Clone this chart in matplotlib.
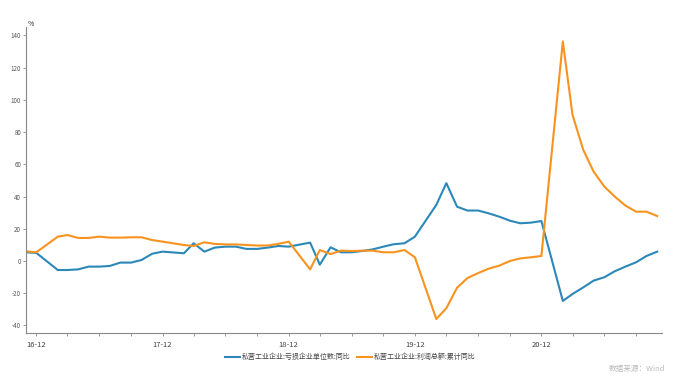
import matplotlib.pyplot as plt
import matplotlib.dates as mdates
import pandas as pd

# monthly data (Jan is merged into Feb, so no January points)
months = ["2016-11", "2016-12",
          "2017-02", "2017-03", "2017-04", "2017-05", "2017-06", "2017-07", "2017-08", "2017-09", "2017-10", "2017-11", "2017-12",
          "2018-02", "2018-03", "2018-04", "2018-05", "2018-06", "2018-07", "2018-08", "2018-09", "2018-10", "2018-11", "2018-12",
          "2019-02", "2019-03", "2019-04", "2019-05", "2019-06", "2019-07", "2019-08", "2019-09", "2019-10", "2019-11", "2019-12",
          "2020-02", "2020-03", "2020-04", "2020-05", "2020-06", "2020-07", "2020-08", "2020-09", "2020-10", "2020-11", "2020-12",
          "2021-02", "2021-03", "2021-04", "2021-05", "2021-06", "2021-07", "2021-08", "2021-09", "2021-10", "2021-11"]

loss_units_yoy = [5.4, 5.0,
                  -5.6, -5.6, -5.2, -3.5, -3.5, -3.1, -1.0, -1.0, 0.6, 4.5, 5.8,
                  4.8, 11.0, 5.8, 8.3, 8.9, 8.9, 7.5, 7.5, 8.3, 9.3, 8.9,
                  11.4, -2.3, 8.5, 5.4, 5.4, 6.2, 7.2, 8.9, 10.4, 11.0, 15.1,
                  34.8, 48.3, 33.7, 31.3, 31.3, 29.6, 27.5, 25.0, 23.4, 23.8, 24.8,
                  -24.8, -20.5, -16.4, -12.2, -10.1, -6.4, -3.5, -0.8, 3.1, 5.8]

profit_cum_yoy = [6.0, 5.4,
                  15.1, 16.1, 14.3, 14.3, 15.1, 14.5, 14.5, 14.7, 14.7, 13.0, 12.0,
                  9.9, 9.3, 11.6, 10.6, 10.3, 10.3, 9.9, 9.6, 9.6, 10.6, 12.0,
                  -5.2, 6.8, 4.3, 6.4, 6.2, 6.4, 6.4, 5.4, 5.4, 6.8, 2.3,
                  -36.0, -29.3, -16.6, -10.6, -7.5, -4.8, -2.9, 0.0, 1.6, 2.3, 3.1,
                  136.2, 90.7, 69.0, 55.5, 46.2, 40.0, 34.4, 30.6, 30.6, 27.9]

labels = ["私营工业企业:亏损企业单位数:同比", "私营工业企业:利润总额:累计同比"]
colors = ["#2b88b8", "#f7931e"]

plt.rcParams['font.family'] = ['Noto Sans CJK SC', 'DejaVu Sans']
plt.rcParams['axes.unicode_minus'] = False

dates = pd.to_datetime(months)

fig = plt.figure(figsize=(6.77, 3.78), dpi=100)
ax = fig.add_axes([0.0384, 0.119, 0.9395, 0.81])

ax.plot(dates, loss_units_yoy, color=colors[0], linewidth=1.5, label=labels[0])
ax.plot(dates, profit_cum_yoy, color=colors[1], linewidth=1.5, label=labels[1])

ax.set_xlim(pd.Timestamp("2016-11-01"), pd.Timestamp("2021-11-15"))
ax.set_ylim(-44.7, 145.3)
ax.set_yticks(range(-40, 141, 20))

ax.xaxis.set_major_locator(mdates.MonthLocator(bymonth=12))
ax.xaxis.set_major_formatter(mdates.DateFormatter("%y-%m"))
ax.xaxis.set_minor_locator(mdates.MonthLocator(bymonth=[3, 6, 9]))

for side in ["top", "right"]:
    ax.spines[side].set_visible(False)
for side in ["left", "bottom"]:
    ax.spines[side].set_color("#888888")
    ax.spines[side].set_linewidth(0.8)

ax.tick_params(axis="y", labelsize=4.5, colors="#888888", labelcolor="#555555", length=2.5, width=0.6, pad=1)
ax.tick_params(axis="x", which="major", labelsize=5.5, colors="#888888", labelcolor="#444444", length=2.5, width=0.6, pad=3)
ax.tick_params(axis="x", which="minor", colors="#888888", length=2, width=0.6)

fig.text(0.041, 0.925, "%", fontsize=5, color="#333333", va="bottom")

ax.legend(loc="upper center", bbox_to_anchor=(0.51, -0.045), ncol=2, frameon=False,
          fontsize=5, handlelength=2.2, handletextpad=0.3, columnspacing=0.8, labelcolor="#444444")

fig.text(0.982, 0.012, "数据来源：Wind", fontsize=5.5, color="#bbbbbb", ha="right", va="bottom")

fig.savefig("out.png", dpi=100)
